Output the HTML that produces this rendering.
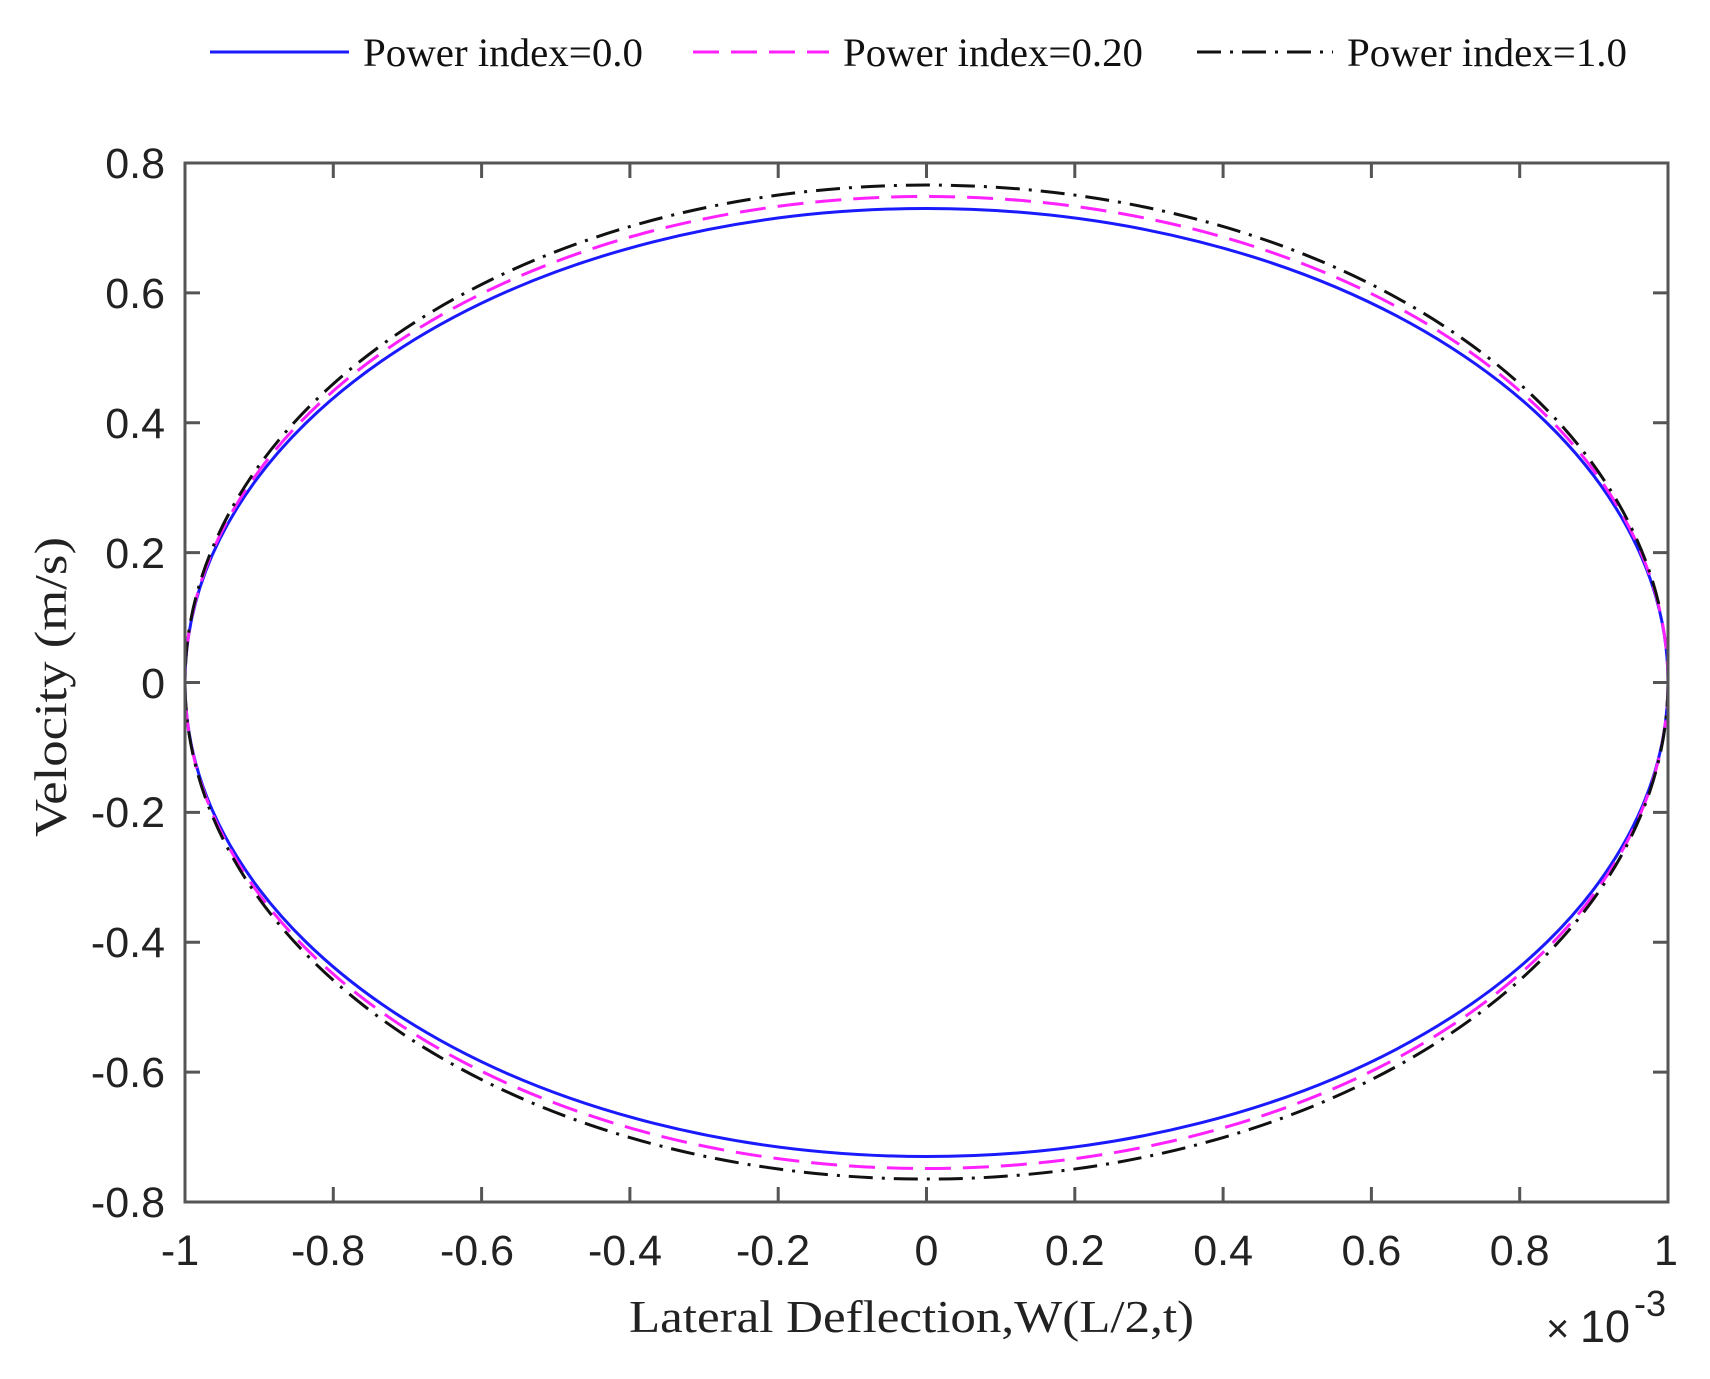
<!DOCTYPE html>
<html><head><meta charset="utf-8"><style>html,body{margin:0;padding:0;background:#fff}svg{display:block}</style></head>
<body>
<svg width="1710" height="1379" viewBox="0 0 1710 1379" xmlns="http://www.w3.org/2000/svg">
<rect width="1710" height="1379" fill="#fff"/>
<!-- legend -->
<line x1="210" y1="52" x2="349" y2="52" stroke="#1a1aff" stroke-width="3"/>
<text x="363" y="66" font-family="Liberation Serif" font-size="40" textLength="280" lengthAdjust="spacingAndGlyphs" fill="#111">Power index=0.0</text>
<line x1="693" y1="52" x2="829" y2="52" stroke="#ff22ff" stroke-width="3" stroke-dasharray="26,12"/>
<text x="843" y="66" font-family="Liberation Serif" font-size="40" textLength="300" lengthAdjust="spacingAndGlyphs" fill="#111">Power index=0.20</text>
<line x1="1197" y1="52" x2="1333" y2="52" stroke="#111" stroke-width="3" stroke-dasharray="24,9,3,9"/>
<text x="1347" y="66" font-family="Liberation Serif" font-size="40" textLength="280" lengthAdjust="spacingAndGlyphs" fill="#111">Power index=1.0</text>

<!-- curves -->
<ellipse cx="926.5" cy="682.5" rx="741.5" ry="474" fill="none" stroke="#1a1aff" stroke-width="3"/>
<ellipse cx="926.5" cy="682.5" rx="741.5" ry="486" fill="none" stroke="#ff22ff" stroke-width="3" stroke-dasharray="26,12"/>
<path d="M1658.8 604 A741.5 497 0 1 0 1668 682.5" fill="none" stroke="#111" stroke-width="3" stroke-dasharray="24,9,3,9"/>

<!-- axes -->
<g stroke="#555" stroke-width="3" fill="none">
<rect x="185" y="163" width="1483" height="1039"/>
<path d="M333.3 1202v-15M333.3 163v15M481.6 1202v-15M481.6 163v15M629.9 1202v-15M629.9 163v15M778.2 1202v-15M778.2 163v15M926.5 1202v-15M926.5 163v15M1074.8 1202v-15M1074.8 163v15M1223.1 1202v-15M1223.1 163v15M1371.4 1202v-15M1371.4 163v15M1519.7 1202v-15M1519.7 163v15"/>
<path d="M185 292.9h15M1668 292.9h-15M185 422.8h15M1668 422.8h-15M185 552.6h15M1668 552.6h-15M185 682.5h15M1668 682.5h-15M185 812.4h15M1668 812.4h-15M185 942.2h15M1668 942.2h-15M185 1072.1h15M1668 1072.1h-15"/>
</g>
<g font-family="Liberation Sans" font-size="43" fill="#222" text-anchor="end">
<text x="165" y="178">0.8</text>
<text x="165" y="308">0.6</text>
<text x="165" y="438">0.4</text>
<text x="165" y="568">0.2</text>
<text x="165" y="698">0</text>
<text x="165" y="827">-0.2</text>
<text x="165" y="957">-0.4</text>
<text x="165" y="1087">-0.6</text>
<text x="165" y="1217">-0.8</text>
</g>
<g font-family="Liberation Sans" font-size="43" fill="#222" text-anchor="middle">
<text x="180" y="1265">-1</text>
<text x="328" y="1265">-0.8</text>
<text x="477" y="1265">-0.6</text>
<text x="625" y="1265">-0.4</text>
<text x="773" y="1265">-0.2</text>
<text x="926.5" y="1265">0</text>
<text x="1074.8" y="1265">0.2</text>
<text x="1223.1" y="1265">0.4</text>
<text x="1371.4" y="1265">0.6</text>
<text x="1519.7" y="1265">0.8</text>
<text x="1666" y="1265">1</text>
</g>
<text x="629" y="1332" font-family="Liberation Serif" font-size="46" textLength="565" lengthAdjust="spacingAndGlyphs" fill="#222">Lateral Deflection,W(L/2,t)</text>
<text transform="translate(66,687) rotate(-90)" text-anchor="middle" font-family="Liberation Serif" font-size="46" textLength="300" lengthAdjust="spacingAndGlyphs" fill="#222">Velocity (m/s)</text>
<text x="1546" y="1342" font-family="Liberation Sans" font-size="40" fill="#222">×</text>
<text x="1580" y="1342" font-family="Liberation Sans" font-size="45" fill="#222">10</text>
<text x="1634" y="1316" font-family="Liberation Sans" font-size="36" fill="#222">-3</text>
</svg>
</body></html>
